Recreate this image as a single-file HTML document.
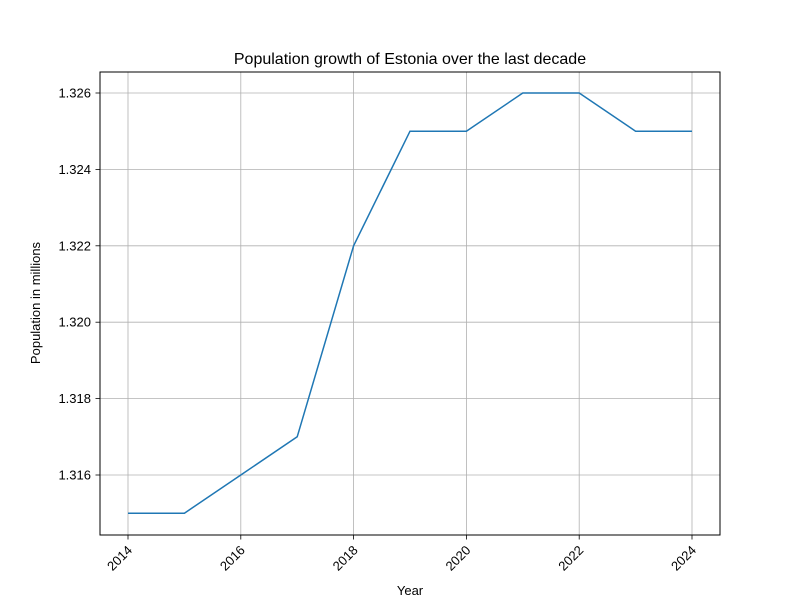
<!DOCTYPE html>
<html><head><meta charset="utf-8"><style>
body{margin:0;background:#fff;}
svg text{font-family:"Liberation Sans","DejaVu Sans",sans-serif;fill:#000;}
</style></head><body>
<svg id="chart" width="800" height="600">
<rect x="0" y="0" width="800" height="600" fill="#fff"/>
<g id="grid"></g>
<g id="plot"></g>
<rect x="100" y="72" width="620" height="463" fill="none" stroke="#000" stroke-width="1"/>
<g id="ticks"></g>
<text x="410" y="64" font-size="16" text-anchor="middle">Population growth of Estonia over the last decade</text>
<text x="410" y="595" font-size="13" text-anchor="middle">Year</text>
<text x="0" y="0" font-size="13" text-anchor="middle" transform="translate(40,303) rotate(-90)">Population in millions</text>
</svg>
<script>
const years=[2014,2015,2016,2017,2018,2019,2020,2021,2022,2023,2024];
const population=[1.315,1.315,1.316,1.317,1.322,1.325,1.325,1.326,1.326,1.325,1.325];
const xTicks=[2014,2016,2018,2020,2022,2024];
const yTicks=[1.316,1.318,1.320,1.322,1.324,1.326];
const NS="http://www.w3.org/2000/svg";
function xs(v){return 128+(v-2014)*(692-128)/10;}
function ys(v){return 475-(v-1.316)*(475-93)/0.010;}
function mk(t,a,p){const e=document.createElementNS(NS,t);for(const k in a)e.setAttribute(k,a[k]);p.appendChild(e);return e;}
const grid=document.getElementById('grid'),ticks=document.getElementById('ticks'),plot=document.getElementById('plot');
xTicks.forEach(v=>{const x=xs(v);
 const g=mk('line',{x1:x,x2:x,y1:72,y2:535,stroke:'#b0b0b0','stroke-width':0.8},grid);
 
 
 mk('line',{x1:x,x2:x,y1:535,y2:539.5,stroke:'#000','stroke-width':0.8},ticks);
 const t=mk('text',{'font-size':13,'text-anchor':'end',transform:`translate(${x+5},${551}) rotate(-45)`},ticks);
 t.textContent=v;
 
 
});
yTicks.forEach(v=>{const y=ys(v);
 const g=mk('line',{x1:100,x2:720,y1:y,y2:y,stroke:'#b0b0b0','stroke-width':0.8},grid);
 
 
 mk('line',{x1:95.5,x2:100,y1:y,y2:y,stroke:'#000','stroke-width':0.8},ticks);
 const t=mk('text',{x:91,y:y+4.5,'font-size':13,'text-anchor':'end'},ticks);
 t.textContent=v.toFixed(3);
 
 
});
const pts=years.map((y,i)=>xs(y)+','+ys(population[i])).join(' ');
const l=mk('polyline',{points:pts,fill:'none',stroke:'#1f77b4','stroke-width':1.5},plot);


</script>
</body></html>
